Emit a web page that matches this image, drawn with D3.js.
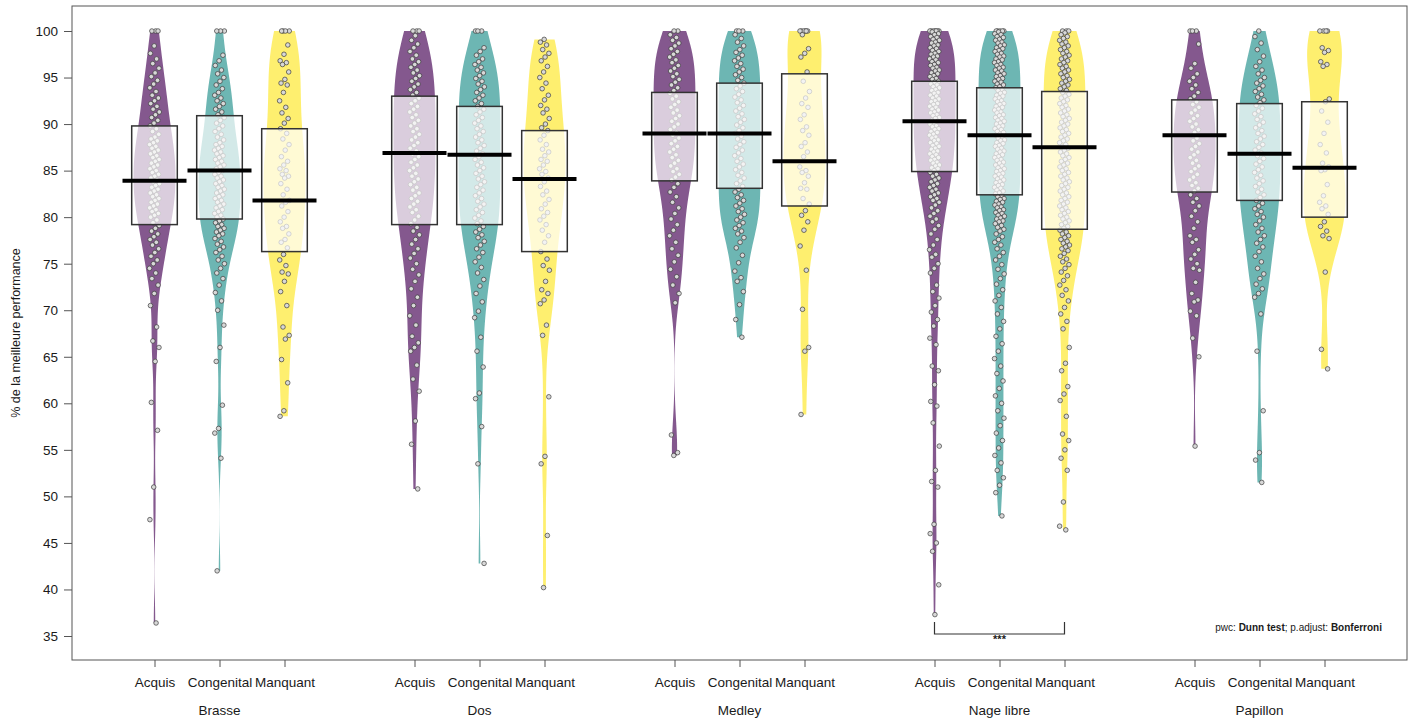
<!DOCTYPE html>
<html><head><meta charset="utf-8">
<script src="https://cdn.jsdelivr.net/npm/d3@7"></script>
<style>
body{margin:0;background:#fff;}
text{font-family:"Liberation Sans",Arial,sans-serif;fill:#1a1a1a;}
</style>
</head><body>
<svg id="chart" width="1415" height="722"></svg>
<script>
// ---------------- DATA ----------------
const sports = ["Brasse","Dos","Medley","Nage libre","Papillon"];
const groups = ["Acquis","Congenital","Manquant"];
const yTicks = [35,40,45,50,55,60,65,70,75,80,85,90,95,100];

// inference box (low / high) and mean line, per bean (sport x group)
const boxLow  = [79.2,79.8,76.3, 79.2,79.2,76.3, 83.9,83.1,81.2, 84.9,82.4,78.7, 82.7,81.8,80.0];
const boxHigh = [89.8,90.9,89.5, 93.0,91.9,89.3, 93.4,94.4,95.4, 94.6,93.9,93.5, 92.6,92.2,92.4];
const meanVal = [83.9,85.0,81.8, 86.9,86.7,84.1, 89.0,89.0,86.0, 90.3,88.8,87.5, 88.8,86.8,85.3];

const brasseAcquis = [100,100,100,98.4,97.6,97.0,96.5,96.0,95.5,95.1,94.7,94.3,93.9,93.5,93.1,92.8,92.5,92.2,91.9,91.6,91.3,91.0,90.7,90.4,90.1,89.8,89.5,89.2,88.9,88.6,88.4,88.2,88.0,87.8,87.6,87.4,87.2,87.0,86.8,86.6,86.4,86.2,86.0,85.8,85.6,85.4,85.2,85.0,84.8,84.6,84.4,84.2,84.0,83.8,83.6,83.4,83.2,83.0,82.8,82.6,82.4,82.2,82.0,81.8,81.6,81.4,81.2,81.0,80.8,80.6,80.4,80.2,80.0,79.7,79.4,79.1,78.8,78.5,78.2,77.9,77.6,77.3,77.0,76.6,76.2,75.8,75.4,75.0,74.5,74.0,73.4,72.7,71.8,70.5,68.2,66.7,66.0,64.5,60.1,57.1,51.0,47.5,36.4];
const brasseCongenital = [100,100,100,97.4,96.8,96.3,95.8,95.4,95.0,94.6,94.2,93.8,93.4,93.1,92.8,92.5,92.2,91.9,91.6,91.3,91.0,90.7,90.4,90.1,89.8,89.5,89.2,88.9,88.6,88.3,88.0,87.8,87.6,87.4,87.2,87.0,86.8,86.6,86.4,86.2,86.0,85.8,85.6,85.4,85.2,85.0,84.8,84.6,84.4,84.2,84.0,83.8,83.6,83.4,83.2,83.0,82.8,82.6,82.4,82.2,82.0,81.8,81.6,81.4,81.2,81.0,80.8,80.6,80.4,80.2,80.0,79.8,79.6,79.4,79.2,79.0,78.8,78.6,78.4,78.2,78.0,77.7,77.4,77.1,76.8,76.5,76.2,75.8,75.4,75.0,74.5,74.0,73.4,72.7,71.9,71.0,70.0,68.4,66.0,64.5,59.8,57.3,56.8,54.1,42.0];
const brasseManquant = [100,100,100,100,98.5,97.5,96.8,96.6,96.4,95.6,94.8,94.4,94.2,93.4,92.5,91.8,91.2,90.6,90.1,89.5,89.0,88.4,87.8,87.2,86.5,86.0,85.6,85.2,85.0,84.6,84.4,84.2,83.6,83.0,82.4,81.8,81.6,81.2,80.6,80.0,79.5,79.0,78.8,78.2,77.6,77.3,76.7,76.0,75.4,74.8,74.1,73.9,73.1,72.0,70.5,68.2,67.3,66.9,64.7,62.2,59.2,58.6];
const dosAcquis = [100,100,100,99.5,99.0,98.6,98.2,97.8,97.4,97.0,96.7,96.4,96.1,95.8,95.5,95.2,94.9,94.6,94.3,94.0,93.7,93.4,93.1,92.8,92.5,92.2,91.9,91.6,91.3,91.0,90.7,90.4,90.1,89.8,89.5,89.2,88.9,88.6,88.3,88.0,87.7,87.4,87.1,86.8,86.5,86.2,85.9,85.6,85.3,85.0,84.7,84.4,84.1,83.8,83.5,83.2,82.9,82.6,82.3,82.0,81.7,81.4,81.1,80.8,80.5,80.1,79.7,79.3,78.9,78.5,78.1,77.6,77.1,76.6,76.1,75.6,75.0,74.4,73.8,73.1,72.3,71.4,70.5,69.4,68.4,67.2,66.5,66.0,65.6,64.1,62.6,61.3,58.1,55.6,50.8];
const dosCongenital = [100,100,100,98.2,97.8,97.4,97.0,96.7,96.4,96.1,95.8,95.5,95.2,94.9,94.6,94.3,94.0,93.7,93.4,93.1,92.8,92.5,92.2,91.9,91.6,91.3,91.0,90.7,90.4,90.1,89.8,89.5,89.2,88.9,88.6,88.3,88.0,87.7,87.4,87.1,86.8,86.5,86.2,85.9,85.6,85.3,85.0,84.7,84.4,84.1,83.8,83.5,83.2,82.9,82.6,82.3,82.0,81.7,81.4,81.1,80.8,80.5,80.2,79.9,79.6,79.3,79.0,78.7,78.4,78.1,77.8,77.4,77.0,76.6,76.2,75.7,75.2,74.6,74.0,73.3,72.6,71.8,70.9,69.9,69.2,67.1,65.6,63.9,61.1,60.5,57.5,53.5,42.8];
const dosManquant = [99.1,98.8,98.5,98.0,97.6,97.2,96.8,96.2,95.6,95.0,94.4,93.8,93.1,92.6,92.0,91.6,91.2,90.6,90.0,89.6,89.3,88.8,88.3,87.8,87.3,87.0,86.6,86.2,86.0,85.6,85.2,84.9,84.6,84.2,83.8,83.3,82.8,82.4,81.9,81.4,80.9,80.5,80.1,79.7,79.2,78.6,78.0,77.3,76.3,75.5,74.8,74.3,73.1,72.2,71.8,71.1,70.7,68.4,67.3,60.7,54.3,53.5,45.8,40.2];
const medleyAcquis = [100,100,99.6,99.3,99.0,98.7,98.4,98.1,97.8,97.5,97.2,96.9,96.6,96.3,96.0,95.7,95.4,95.1,94.8,94.5,94.2,93.9,93.6,93.3,93.0,92.7,92.4,92.1,91.8,91.5,91.2,90.9,90.6,90.3,90.0,89.7,89.4,89.1,88.8,88.5,88.2,87.9,87.6,87.3,87.0,86.7,86.4,86.1,85.8,85.5,85.2,84.9,84.6,84.3,84.0,83.6,83.2,82.7,82.2,81.6,81.0,80.4,79.8,79.2,78.6,78.0,77.3,76.6,75.9,75.2,74.4,73.6,72.7,71.8,70.8,56.6,54.7,54.4];
const medleyCongenital = [100,100,100,99.6,99.2,98.8,98.4,98.0,97.7,97.4,97.1,96.8,96.5,96.2,95.9,95.6,95.3,95.0,94.7,94.4,94.1,93.8,93.5,93.2,92.9,92.6,92.3,92.0,91.7,91.4,91.1,90.8,90.5,90.2,89.9,89.6,89.3,89.0,88.7,88.4,88.1,87.8,87.5,87.2,86.9,86.6,86.3,86.0,85.7,85.4,85.1,84.8,84.5,84.2,83.9,83.6,83.3,83.0,82.7,82.4,82.1,81.8,81.5,81.2,80.9,80.6,80.3,80.0,79.7,79.4,79.1,78.8,78.5,78.2,77.8,77.3,76.7,75.9,75.1,74.2,73.5,73.1,72.0,70.6,69.0,67.1];
const medleyManquant = [100,100,100,100,100,100,99.6,98.1,97.6,97.2,95.6,94.6,93.5,92.8,92.2,91.8,91.0,90.5,89.7,89.3,88.8,88.0,87.6,87.0,86.5,85.4,85.0,84.8,84.4,83.7,83.1,83.0,82.0,81.4,80.7,80.2,79.5,78.6,76.9,74.3,70.1,66.0,65.6,58.8];
const nageAcquis = [100,100,100,100,100,100,100,99.9,99.7,99.6,99.4,99.3,99.1,99.0,98.8,98.7,98.5,98.4,98.2,98.1,97.9,97.8,97.6,97.5,97.3,97.2,97.0,96.9,96.7,96.6,96.4,96.3,96.1,96.0,95.8,95.7,95.5,95.4,95.2,95.1,94.9,94.8,94.6,94.5,94.3,94.2,94.0,93.9,93.7,93.6,93.4,93.3,93.1,93.0,92.8,92.7,92.5,92.4,92.2,92.1,91.9,91.8,91.6,91.5,91.3,91.2,91.0,90.9,90.7,90.6,90.4,90.3,90.1,90.0,89.8,89.7,89.5,89.4,89.2,89.1,88.9,88.8,88.6,88.5,88.3,88.2,88.0,87.9,87.7,87.6,87.4,87.3,87.1,87.0,86.8,86.7,86.5,86.4,86.2,86.1,85.9,85.8,85.6,85.5,85.3,85.2,85.0,84.8,84.6,84.4,84.2,84.0,83.8,83.6,83.4,83.2,83.0,82.8,82.6,82.4,82.2,82.0,81.8,81.6,81.3,81.0,80.7,80.4,80.1,79.8,79.5,79.1,78.7,78.2,77.6,77.0,76.5,76.0,75.7,75.0,74.5,74.0,72.7,72.0,71.3,70.5,69.8,69.0,68.3,67.0,66.3,64.0,63.5,62.0,60.2,59.7,57.9,55.4,52.8,51.6,51.0,47.0,46.0,45.0,44.1,40.5,37.3];
const nageCongenital = [100,100,100,100,100,99.9,99.7,99.6,99.4,99.3,99.1,99.0,98.8,98.7,98.5,98.4,98.2,98.1,97.9,97.8,97.6,97.5,97.3,97.2,97.0,96.9,96.7,96.6,96.4,96.3,96.1,96.0,95.8,95.7,95.5,95.4,95.2,95.1,94.9,94.8,94.6,94.5,94.3,94.2,94.0,93.9,93.7,93.6,93.4,93.3,93.1,93.0,92.8,92.7,92.5,92.4,92.2,92.1,91.9,91.8,91.6,91.5,91.3,91.2,91.0,90.9,90.7,90.6,90.4,90.3,90.1,90.0,89.8,89.7,89.5,89.4,89.2,89.1,88.9,88.8,88.6,88.5,88.3,88.2,88.0,87.9,87.7,87.6,87.4,87.3,87.1,87.0,86.8,86.7,86.5,86.4,86.2,86.1,85.9,85.8,85.6,85.5,85.3,85.2,85.0,84.9,84.7,84.6,84.4,84.3,84.1,84.0,83.8,83.7,83.5,83.4,83.2,83.1,82.9,82.8,82.6,82.5,82.3,82.2,82.0,81.9,81.7,81.6,81.4,81.3,81.1,81.0,80.8,80.7,80.5,80.4,80.2,80.1,79.9,79.8,79.6,79.5,79.3,79.1,78.9,78.7,78.5,78.2,77.9,77.6,77.3,77.0,76.6,76.2,75.8,75.4,74.9,74.4,73.9,73.4,72.8,72.2,71.6,71.0,70.3,69.6,68.8,68.0,67.2,66.4,65.6,64.8,64.0,63.2,62.4,61.6,60.8,60.0,59.2,58.4,57.6,56.8,56.0,55.2,54.4,53.6,52.8,52.0,51.2,50.4,47.9];
const nageManquant = [100,100,100,99.8,99.6,99.4,99.2,99.0,98.8,98.6,98.4,98.2,98.0,97.8,97.6,97.4,97.2,97.0,96.8,96.6,96.4,96.2,96.0,95.8,95.6,95.4,95.2,95.0,94.8,94.6,94.4,94.2,94.0,93.8,93.6,93.4,93.2,93.0,92.8,92.6,92.4,92.2,92.0,91.8,91.6,91.4,91.2,91.0,90.8,90.6,90.4,90.2,90.0,89.8,89.6,89.4,89.2,89.0,88.8,88.6,88.4,88.2,88.0,87.8,87.6,87.4,87.2,87.0,86.8,86.6,86.4,86.2,86.0,85.8,85.6,85.4,85.2,85.0,84.8,84.6,84.4,84.2,84.0,83.8,83.6,83.4,83.2,83.0,82.8,82.6,82.4,82.2,82.0,81.8,81.6,81.4,81.2,81.0,80.8,80.6,80.4,80.2,80.0,79.8,79.6,79.4,79.2,79.0,78.8,78.6,78.4,78.2,78.0,77.8,77.6,77.4,77.2,77.0,76.8,76.6,76.4,76.1,75.8,75.5,75.2,74.9,74.5,74.1,73.7,73.2,72.7,72.2,71.6,71.0,70.3,69.6,68.8,68.0,66.0,64.3,63.5,61.8,61.0,60.3,58.6,56.7,56.0,55.0,54.1,52.8,49.4,46.8,46.4];
const papillonAcquis = [100,100,100,98.6,96.5,96.0,95.4,95.0,94.6,94.2,93.8,93.4,93.0,92.7,92.4,92.1,91.8,91.5,91.2,90.9,90.6,90.3,90.0,89.7,89.4,89.1,88.8,88.5,88.2,87.9,87.6,87.3,87.0,86.7,86.4,86.1,85.8,85.5,85.2,84.9,84.6,84.3,84.0,83.7,83.4,83.1,82.8,82.4,82.0,81.6,81.2,80.7,80.1,79.5,78.8,78.0,77.6,77.3,76.5,76.0,75.5,75.0,74.5,74.3,73.0,71.8,71.1,70.9,69.9,69.4,67.0,65.0,55.4];
const papillonCongenital = [100,99.4,98.7,98.0,97.3,96.7,96.2,95.8,95.4,95.0,94.7,94.4,94.1,93.8,93.5,93.2,92.9,92.6,92.3,92.0,91.7,91.4,91.1,90.8,90.5,90.2,89.9,89.6,89.3,89.0,88.7,88.4,88.1,87.8,87.5,87.2,86.9,86.6,86.3,86.0,85.7,85.4,85.1,84.8,84.5,84.2,83.9,83.6,83.3,83.0,82.7,82.4,82.1,81.8,81.5,81.2,80.9,80.6,80.3,80.0,79.6,79.2,78.8,78.4,78.0,77.6,77.2,76.8,76.3,75.8,75.2,74.5,73.9,73.4,72.8,72.3,71.8,71.4,69.6,65.6,59.2,54.7,53.9,51.5];
const papillonManquant = [100,100,100,100,98.2,97.9,97.7,96.7,96.4,96.2,92.7,92.4,91.4,90.2,89.0,87.8,86.9,85.8,85.4,85.1,85.0,83.5,82.3,81.6,81.2,80.9,80.3,79.5,79.0,78.5,78.0,77.7,74.1,65.8,63.7];

const beanValues = [
  brasseAcquis, brasseCongenital, brasseManquant,
  dosAcquis, dosCongenital, dosManquant,
  medleyAcquis, medleyCongenital, medleyManquant,
  nageAcquis, nageCongenital, nageManquant,
  papillonAcquis, papillonCongenital, papillonManquant
];
const groupColors = ["#440154","#21908C","#FDE725"];

// ---------------- LAYOUT ----------------
const frame = {left:72, right:1407, top:6, bottom:660};
const svg = d3.select("#chart");
const y = d3.scaleLinear().domain([35,100]).range([636,31]);
const x = d3.scaleLinear().domain([0,18]).range([154.5,1324.5]);
const beanHalf = 21, boxHalf = 22.8, meanHalf = 32;

function bwNrd0(v){
  const s = v.slice().sort(d3.ascending);
  const sd = d3.deviation(s);
  const iqr = d3.quantile(s,0.75) - d3.quantile(s,0.25);
  const lo = Math.min(sd, iqr/1.34);
  return 0.9 * lo * Math.pow(s.length, -0.2);
}
function kde(v, bw, n){
  const mn = d3.min(v), mx = d3.max(v);
  const pts = [];
  for (let i=0;i<=n;i++){
    const t = mn + (mx-mn)*i/n;
    let s = 0;
    for (const d of v){ const u=(t-d)/bw; s += Math.exp(-0.5*u*u); }
    pts.push({v:t, d:s/(v.length*bw*Math.sqrt(2*Math.PI))});
  }
  return pts;
}

const gBeans = svg.append("g"), gPts = svg.append("g"), gBox = svg.append("g"), gMean = svg.append("g");

beanValues.forEach((vals, idx) => {
  const g = Math.floor(idx/3), j = idx%3;
  const cx = x(g*4 + j);
  const bw = bwNrd0(vals) * 0.8;
  const dens = kde(vals, bw, 400);
  const dmax = d3.max(dens, d => d.d);
  const wScale = d3.scaleLinear().domain([0,dmax]).range([0,beanHalf]);
  const area = d3.area()
    .y(d => y(d.v))
    .x0(d => cx - wScale(d.d))
    .x1(d => cx + wScale(d.d));
  gBeans.append("path").attr("d", area(dens))
    .attr("fill", groupColors[j]).attr("fill-opacity", 0.66);

  gPts.selectAll(null).data(vals).enter().append("circle")
    .attr("cx", (d,i) => cx + ((((i+1)*0.6180339887 + idx*0.37) % 1) - 0.5) * 10)
    .attr("cy", d => y(d))
    .attr("r", 2.3)
    .attr("fill", "#d8d8d8").attr("stroke", "#3c3c3c").attr("stroke-width", 0.7);

  gBox.append("rect")
    .attr("x", cx - boxHalf).attr("width", boxHalf*2)
    .attr("y", y(boxHigh[idx])).attr("height", y(boxLow[idx]) - y(boxHigh[idx]))
    .attr("fill", "#fff").attr("fill-opacity", 0.7)
    .attr("stroke", "#333").attr("stroke-width", 1.5);

  gMean.append("line")
    .attr("x1", cx - meanHalf).attr("x2", cx + meanHalf)
    .attr("y1", y(meanVal[idx])).attr("y2", y(meanVal[idx]))
    .attr("stroke", "#000").attr("stroke-width", 4);
});

// frame
svg.append("rect").attr("x", frame.left).attr("y", frame.top)
  .attr("width", frame.right-frame.left).attr("height", frame.bottom-frame.top)
  .attr("fill", "none").attr("stroke", "#555").attr("stroke-width", 1);

// y axis
const yAxis = svg.append("g").attr("transform", `translate(${frame.left},0)`)
  .call(d3.axisLeft(y).tickValues(yTicks).tickSize(8).tickPadding(6).tickFormat(d3.format("d")));
yAxis.select(".domain").remove();
yAxis.selectAll(".tick line").attr("stroke", "#555");
yAxis.selectAll(".tick text").attr("font-size", "13.5px").attr("fill", "#1a1a1a")
  .attr("font-family", "'Liberation Sans',Arial,sans-serif");

// x axis ticks and labels
const positions = [];
sports.forEach((s,g) => groups.forEach((gr,j) => positions.push({k:g*4+j, label:gr})));
const xAxis = svg.append("g").attr("transform", `translate(0,${frame.bottom})`)
  .call(d3.axisBottom(x).tickValues(positions.map(p=>p.k)).tickSize(7).tickPadding(10)
    .tickFormat(k => positions.find(p=>p.k===k).label));
xAxis.select(".domain").remove();
xAxis.selectAll(".tick line").attr("stroke", "#555");
xAxis.selectAll(".tick text").attr("font-size", "13.5px").attr("fill", "#1a1a1a")
  .attr("font-family", "'Liberation Sans',Arial,sans-serif");

svg.append("g").selectAll("text").data(sports).enter().append("text")
  .attr("x", (d,g) => x(g*4+1)).attr("y", 715)
  .attr("text-anchor", "middle").attr("font-size", "13.5px").text(d => d);

// y label
svg.append("text")
  .attr("transform", `translate(20,${(frame.top+frame.bottom)/2}) rotate(-90)`)
  .attr("text-anchor", "middle").attr("font-size", "12.5px")
  .text("% de la meilleure performance");

// significance bracket (Nage libre: Acquis vs Manquant)
const bx1 = x(12), bx2 = x(14), byTop = 622, byBot = 634;
svg.append("path")
  .attr("d", `M${bx1},${byTop}V${byBot}H${bx2}V${byTop}`)
  .attr("fill", "none").attr("stroke", "#333").attr("stroke-width", 1.2);
svg.append("text").attr("x", (bx1+bx2)/2).attr("y", 643)
  .attr("text-anchor", "middle").attr("font-size", "11px").attr("font-weight", "bold").text("***");

// caption
const cap = svg.append("text").attr("x", 1382).attr("y", 631)
  .attr("text-anchor", "end").attr("font-size", "10px");
cap.append("tspan").text("pwc: ");
cap.append("tspan").attr("font-weight", "bold").text("Dunn test");
cap.append("tspan").text("; p.adjust: ");
cap.append("tspan").attr("font-weight", "bold").text("Bonferroni");
</script>
</body></html>
